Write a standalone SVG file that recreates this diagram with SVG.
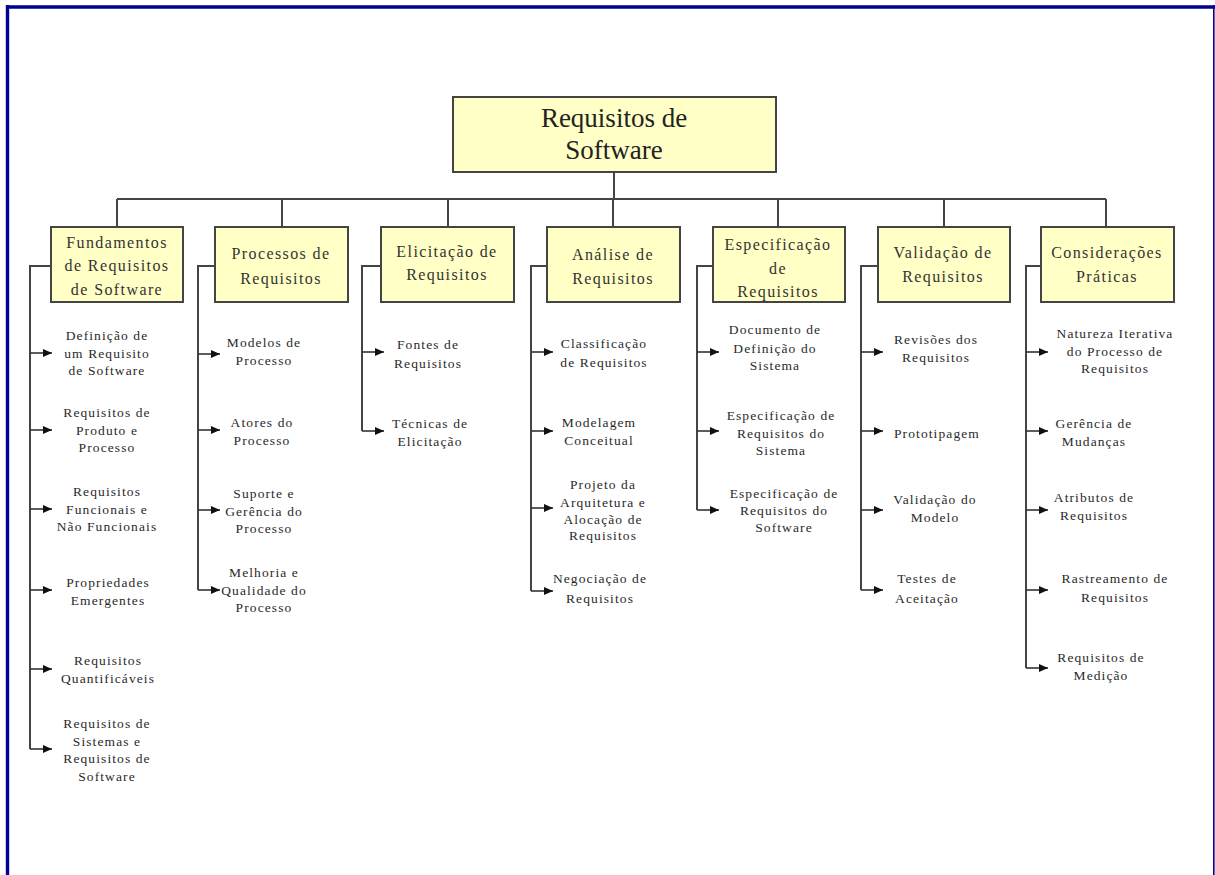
<svg xmlns="http://www.w3.org/2000/svg" width="1215" height="875" viewBox="0 0 1215 875">
<defs>
<style>
.box{fill:#ffffc6;stroke:#444;stroke-width:2}
.ln{fill:none;stroke:#444;stroke-width:2}
.ar{fill:none;stroke:#333;stroke-width:1.6;marker-end:url(#ah)}
.rt{font-family:"Liberation Serif",serif;font-size:27px;fill:#222;text-anchor:middle}
.bt{font-family:"Liberation Serif",serif;font-size:16px;letter-spacing:1.4px;fill:#333;text-anchor:middle}
.t{font-family:"Liberation Serif",serif;font-size:13.5px;letter-spacing:1.1px;fill:#2a2a2a;text-anchor:middle}
.frame{stroke:#000094;fill:none}
</style>
<marker id="ah" markerUnits="userSpaceOnUse" markerWidth="10" markerHeight="8" refX="9" refY="4" orient="auto">
<path d="M0,0 L9,4 L0,8 Z" fill="#111"/>
</marker>
</defs>
<rect width="1215" height="875" fill="#fff"/>
<g id="frame">
<line class="frame" x1="7.5" y1="5" x2="7.5" y2="875" stroke-width="3.4"/>
<line class="frame" x1="6" y1="7" x2="1215" y2="7" stroke-width="3.4"/>
<line class="frame" x1="1213.8" y1="5" x2="1213.8" y2="875" stroke-width="1.6"/>
</g>
<g id="connectors">
<path class="ln" d="M614,172 V199 M117,199 H1106 M117,199 V227 M282,199 V227 M448,199 V227 M613,199 V227 M778,199 V227 M944,199 V227 M1106,199 V227"/>
<path class="ln" d="M51,266 H30 V749"/>
<path class="ln" d="M215,266 H198 V590"/>
<path class="ln" d="M381,266 H362 V431"/>
<path class="ln" d="M547,266 H531 V591"/>
<path class="ln" d="M713,266 H697 V510"/>
<path class="ln" d="M878,266 H861 V590"/>
<path class="ln" d="M1041,266 H1026 V668"/>
<line class="ar" x1="30" y1="353" x2="52" y2="353"/>
<line class="ar" x1="30" y1="430" x2="52" y2="430"/>
<line class="ar" x1="30" y1="509" x2="52" y2="509"/>
<line class="ar" x1="30" y1="590" x2="52" y2="590"/>
<line class="ar" x1="30" y1="669" x2="52" y2="669"/>
<line class="ar" x1="30" y1="749" x2="52" y2="749"/>
<line class="ar" x1="198" y1="354" x2="220" y2="354"/>
<line class="ar" x1="198" y1="430" x2="220" y2="430"/>
<line class="ar" x1="198" y1="510" x2="220" y2="510"/>
<line class="ar" x1="198" y1="590" x2="220" y2="590"/>
<line class="ar" x1="362" y1="352" x2="384" y2="352"/>
<line class="ar" x1="362" y1="431" x2="384" y2="431"/>
<line class="ar" x1="531" y1="352" x2="553" y2="352"/>
<line class="ar" x1="531" y1="431" x2="553" y2="431"/>
<line class="ar" x1="531" y1="508" x2="553" y2="508"/>
<line class="ar" x1="531" y1="591" x2="553" y2="591"/>
<line class="ar" x1="697" y1="352" x2="719" y2="352"/>
<line class="ar" x1="697" y1="431" x2="719" y2="431"/>
<line class="ar" x1="697" y1="510" x2="719" y2="510"/>
<line class="ar" x1="861" y1="352" x2="883" y2="352"/>
<line class="ar" x1="861" y1="431" x2="883" y2="431"/>
<line class="ar" x1="861" y1="510" x2="883" y2="510"/>
<line class="ar" x1="861" y1="590" x2="883" y2="590"/>
<line class="ar" x1="1026" y1="352" x2="1048" y2="352"/>
<line class="ar" x1="1026" y1="431" x2="1048" y2="431"/>
<line class="ar" x1="1026" y1="510" x2="1048" y2="510"/>
<line class="ar" x1="1026" y1="590" x2="1048" y2="590"/>
<line class="ar" x1="1026" y1="668" x2="1048" y2="668"/>
</g>
<g id="root">
<rect class="box" x="453" y="97" width="323" height="75"/>
<text class="rt" x="614" y="127">Requisitos de</text>
<text class="rt" x="614" y="159">Software</text>
</g>
<g id="fundamentos">
<rect class="box" x="51" y="227" width="132" height="75"/>
<text class="bt" x="117" y="248">Fundamentos</text>
<text class="bt" x="117" y="271">de Requisitos</text>
<text class="bt" x="117" y="295">de Software</text>
</g>
<g id="processos">
<rect class="box" x="215" y="227" width="133" height="75"/>
<text class="bt" x="281" y="259">Processos de</text>
<text class="bt" x="281" y="284">Requisitos</text>
</g>
<g id="elicitacao">
<rect class="box" x="381" y="227" width="133" height="75"/>
<text class="bt" x="447" y="257">Elicitação de</text>
<text class="bt" x="447" y="280">Requisitos</text>
</g>
<g id="analise">
<rect class="box" x="547" y="227" width="133" height="75"/>
<text class="bt" x="613" y="260">Análise de</text>
<text class="bt" x="613" y="284">Requisitos</text>
</g>
<g id="especificacao">
<rect class="box" x="713" y="227" width="132" height="75"/>
<text class="bt" x="778" y="250">Especificação</text>
<text class="bt" x="778" y="274">de</text>
<text class="bt" x="778" y="297">Requisitos</text>
</g>
<g id="validacao">
<rect class="box" x="878" y="227" width="132" height="75"/>
<text class="bt" x="943" y="258">Validação de</text>
<text class="bt" x="943" y="282">Requisitos</text>
</g>
<g id="consideracoes">
<rect class="box" x="1041" y="227" width="133" height="75"/>
<text class="bt" x="1107" y="258">Considerações</text>
<text class="bt" x="1107" y="282">Práticas</text>
</g>
<g id="f-items">
<text class="t" x="107" y="339.5">Definição de</text>
<text class="t" x="107" y="357.5">um Requisito</text>
<text class="t" x="107" y="374.5">de Software</text>
<text class="t" x="107" y="416.5">Requisitos de</text>
<text class="t" x="107" y="434.5">Produto e</text>
<text class="t" x="107" y="451.5">Processo</text>
<text class="t" x="107" y="495.5">Requisitos</text>
<text class="t" x="107" y="513.5">Funcionais e</text>
<text class="t" x="107" y="530.5">Não Funcionais</text>
<text class="t" x="108" y="586.5">Propriedades</text>
<text class="t" x="108" y="604.5">Emergentes</text>
<text class="t" x="108" y="664.5">Requisitos</text>
<text class="t" x="108" y="682.5">Quantificáveis</text>
<text class="t" x="107" y="727.5">Requisitos de</text>
<text class="t" x="107" y="745.5">Sistemas e</text>
<text class="t" x="107" y="762.5">Requisitos de</text>
<text class="t" x="107" y="780.5">Software</text>
</g>
<g id="p-items">
<text class="t" x="264" y="346.5">Modelos de</text>
<text class="t" x="264" y="364.5">Processo</text>
<text class="t" x="262" y="426.5">Atores do</text>
<text class="t" x="262" y="444.5">Processo</text>
<text class="t" x="264" y="497.5">Suporte e</text>
<text class="t" x="264" y="515.5">Gerência do</text>
<text class="t" x="264" y="532.5">Processo</text>
<text class="t" x="264" y="576.5">Melhoria e</text>
<text class="t" x="264" y="594.5">Qualidade do</text>
<text class="t" x="264" y="611.5">Processo</text>
</g>
<g id="e-items">
<text class="t" x="428" y="348.5">Fontes de</text>
<text class="t" x="428" y="367.5">Requisitos</text>
<text class="t" x="430" y="427.5">Técnicas de</text>
<text class="t" x="430" y="445.5">Elicitação</text>
</g>
<g id="a-items">
<text class="t" x="604" y="347.5">Classificação</text>
<text class="t" x="604" y="366.5">de Requisitos</text>
<text class="t" x="599" y="426.5">Modelagem</text>
<text class="t" x="599" y="444.5">Conceitual</text>
<text class="t" x="603" y="488.5">Projeto da</text>
<text class="t" x="603" y="506.5">Arquitetura e</text>
<text class="t" x="603" y="523.5">Alocação de</text>
<text class="t" x="603" y="539.5">Requisitos</text>
<text class="t" x="600" y="582.5">Negociação de</text>
<text class="t" x="600" y="602.5">Requisitos</text>
</g>
<g id="s-items">
<text class="t" x="775" y="333.5">Documento de</text>
<text class="t" x="775" y="352.5">Definição do</text>
<text class="t" x="775" y="369.5">Sistema</text>
<text class="t" x="781" y="419.5">Especificação de</text>
<text class="t" x="781" y="437.5">Requisitos do</text>
<text class="t" x="781" y="454.5">Sistema</text>
<text class="t" x="784" y="497.5">Especificação de</text>
<text class="t" x="784" y="514.5">Requisitos do</text>
<text class="t" x="784" y="531.5">Software</text>
</g>
<g id="v-items">
<text class="t" x="936" y="343.5">Revisões dos</text>
<text class="t" x="936" y="361.5">Requisitos</text>
<text class="t" x="937" y="437.5">Prototipagem</text>
<text class="t" x="935" y="503.5">Validação do</text>
<text class="t" x="935" y="521.5">Modelo</text>
<text class="t" x="927" y="582.5">Testes de</text>
<text class="t" x="927" y="602.5">Aceitação</text>
</g>
<g id="c-items">
<text class="t" x="1115" y="337.5">Natureza Iterativa</text>
<text class="t" x="1115" y="355.5">do Processo de</text>
<text class="t" x="1115" y="372.5">Requisitos</text>
<text class="t" x="1094" y="427.5">Gerência de</text>
<text class="t" x="1094" y="445.5">Mudanças</text>
<text class="t" x="1094" y="501.5">Atributos de</text>
<text class="t" x="1094" y="519.5">Requisitos</text>
<text class="t" x="1115" y="582.5">Rastreamento de</text>
<text class="t" x="1115" y="601.5">Requisitos</text>
<text class="t" x="1101" y="661.5">Requisitos de</text>
<text class="t" x="1101" y="679.5">Medição</text>
</g>
</svg>
